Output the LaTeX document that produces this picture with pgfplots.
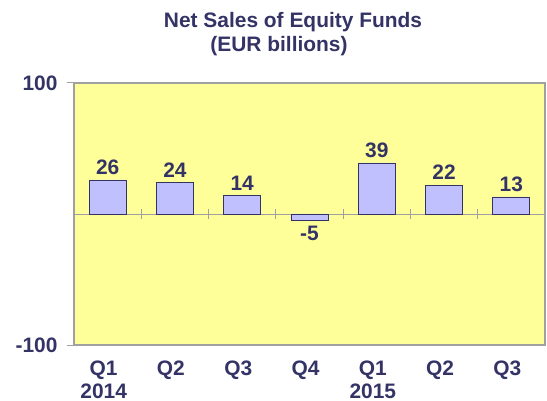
\documentclass[border=0pt]{standalone}
\usepackage{pgfplots}
\pgfplotsset{compat=1.18}
\usepackage{fontspec}
\setmainfont{Liberation Sans}
\definecolor{navy}{HTML}{333366}
\definecolor{bg}{HTML}{FFFF99}
\definecolor{barfill}{HTML}{C0C0FF}
\definecolor{frame}{HTML}{A0A0A0}
\begin{document}
\begin{tikzpicture}
\path[use as bounding box] (0,0) rectangle (547bp,401bp);
\begin{axis}[
 at={(74bp,56bp)}, anchor=south west,
 scale only axis, width=471bp, height=262bp,
 xmin=-0.5, xmax=6.5, ymin=-100, ymax=100,
 axis background/.style={fill=bg},
 axis line style={frame, line width=1.2pt},
 ytick={-100,100},
 xtick={0,...,6}, xticklabels={{Q1\\2014},Q2,Q3,Q4,{Q1\\2015},Q2,Q3},
 x tick style={draw=none},
 y tick style={frame, line width=1pt},
 ytick pos=left, tick align=outside, major tick length=7bp,
 ticklabel style={font=\fontsize{21}{23}\selectfont\bfseries, text=navy},
 xticklabel style={align=center, xshift=-4bp, yshift=-5bp},
 yticklabel style={xshift=-6bp},
 ybar, bar width=37bp,
 nodes near coords,
 nodes near coords style={font=\fontsize{21}{23}\selectfont\bfseries, text=navy, inner sep=5bp},
 /pgf/number format/assume math mode=true,
 clip=false,
]
\draw[frame, line width=1pt] (axis cs:-0.5,0) -- (axis cs:6.5,0);
\pgfplotsinvokeforeach{0.5,1.5,2.5,3.5,4.5,5.5}{\draw[frame, line width=1pt] (axis cs:#1,-3.5) -- (axis cs:#1,3.5);}
\addplot[fill=barfill, draw=navy, line width=0.8pt] coordinates {(0,26)(1,24)(2,14)(3,-5)(4,39)(5,22)(6,13)};
\end{axis}
\node[anchor=base, font=\fontsize{21}{24}\selectfont\bfseries, text=navy] at (293bp,373bp) {Net Sales of Equity Funds};
\node[anchor=base, font=\fontsize{21}{24}\selectfont\bfseries, text=navy] at (279bp,349bp) {(EUR billions)};
\end{tikzpicture}
\end{document}
